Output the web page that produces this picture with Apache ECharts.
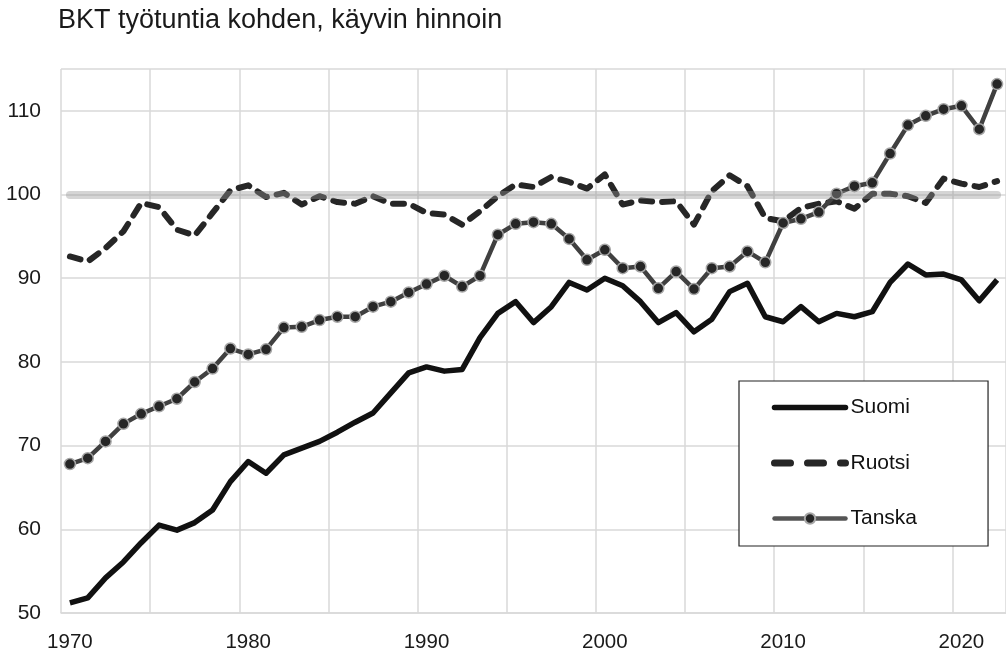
<!DOCTYPE html>
<html>
<head>
<meta charset="utf-8">
<script src="https://cdn.jsdelivr.net/npm/echarts@6/dist/echarts.min.js"></script>
<style>
    html, body { margin: 0; padding: 0; background: #fff; }
    #chart { width: 1006px; height: 653px; }
</style>
</head>
<body>
<div id="chart"></div>
<script>
var years = [];
for (var y = 1970; y <= 2022; y++) {
    years.push(String(y));
}

var suomi = [51.2, 51.8, 54.2, 56.1, 58.4, 60.5, 59.9, 60.8, 62.3, 65.7,
    68.1, 66.7, 68.9, 69.7, 70.5, 71.6, 72.8, 73.9, 76.3, 78.7,
    79.4, 78.9, 79.1, 82.9, 85.8, 87.2, 84.7, 86.6, 89.5, 88.6,
    90.0, 89.1, 87.2, 84.7, 85.9, 83.6, 85.1, 88.4, 89.4, 85.4,
    84.8, 86.6, 84.8, 85.8, 85.4, 86.0, 89.5, 91.7, 90.4, 90.5,
    89.8, 87.3, 89.8];

var ruotsi = [92.6, 92.0, 93.6, 95.6, 99.0, 98.5, 95.8, 95.1, 97.8, 100.5,
    101.1, 99.7, 100.2, 98.8, 99.8, 99.1, 98.9, 99.8, 98.9, 98.9,
    97.8, 97.6, 96.4, 98.0, 99.8, 101.2, 100.9, 102.1, 101.5, 100.7,
    102.4, 98.8, 99.3, 99.1, 99.2, 96.4, 100.4, 102.3, 101.0, 97.2,
    96.8, 98.4, 98.9, 99.2, 98.3, 100.1, 100.1, 99.8, 99.0, 101.9,
    101.3, 100.9, 101.6];

var tanska = [67.8, 68.5, 70.5, 72.6, 73.8, 74.7, 75.6, 77.6, 79.2, 81.6,
    80.9, 81.5, 84.1, 84.2, 85.0, 85.4, 85.4, 86.6, 87.2, 88.3,
    89.3, 90.3, 89.0, 90.3, 95.2, 96.5, 96.7, 96.5, 94.7, 92.2,
    93.4, 91.2, 91.4, 88.8, 90.8, 88.7, 91.2, 91.4, 93.2, 91.9,
    96.6, 97.1, 97.9, 100.1, 101.0, 101.4, 104.9, 108.3, 109.4, 110.2,
    110.6, 107.8, 113.2];

var refLevel = 100;

var fontFamily = '"Liberation Sans", Arial, Helvetica, sans-serif';

var chart = echarts.init(document.getElementById('chart'));

// legend: Suomi and Ruotsi show only the line, no dot
var hiddenDot = { color: 'rgba(0,0,0,0)', borderWidth: 0, opacity: 0 };

var option = {
    animation: false,
    backgroundColor: '#fff',
    textStyle: { fontFamily: fontFamily },
    title: {
        text: 'BKT työtuntia kohden, käyvin hinnoin',
        left: 58,
        top: 7,
        padding: 0,
        textStyle: {
            fontFamily: fontFamily,
            fontSize: 27,
            fontWeight: 'normal',
            color: '#1a1a1a'
        }
    },
    grid: {
        left: 61,
        top: 69,
        right: -3,
        bottom: 40
    },
    legend: {
        data: [
            { name: 'Suomi', itemStyle: hiddenDot, lineStyle: { width: 5.5, color: '#111', cap: 'round' } },
            { name: 'Ruotsi', itemStyle: hiddenDot, lineStyle: { width: 7, color: '#262626', type: [16, 17], cap: 'round' } },
            { name: 'Tanska', lineStyle: { width: 4.5, color: '#555', cap: 'round' } }
        ],
        orient: 'vertical',
        left: 739,
        top: 381,
        padding: [16, 71, 17, 32],
        itemWidth: 71,
        itemHeight: 13,
        itemGap: 34.5,
        itemTextGap: 3,
        backgroundColor: '#fff',
        borderColor: '#222',
        borderWidth: 1.2,
        borderRadius: 0,
        textStyle: {
            fontFamily: fontFamily,
            fontSize: 21,
            color: '#111'
        }
    },
    xAxis: {
        type: 'category',
        data: years,
        boundaryGap: true,
        axisLine: { show: true, lineStyle: { color: '#d9d9d9', width: 1.5 } },
        axisTick: { show: false },
        axisLabel: {
            interval: 9,
            margin: 19,
            fontSize: 20.5,
            color: '#1a1a1a',
            fontFamily: fontFamily
        },
        splitLine: {
            show: true,
            interval: 4,
            lineStyle: { color: '#d9d9d9', width: 1.5 }
        }
    },
    yAxis: {
        type: 'value',
        min: 50,
        max: 115,
        interval: 10,
        axisLine: { show: false },
        axisTick: { show: false },
        axisLabel: {
            margin: 20,
            fontSize: 21,
            color: '#1a1a1a',
            fontFamily: fontFamily,
            showMaxLabel: false
        },
        splitLine: {
            show: true,
            lineStyle: { color: '#d9d9d9', width: 1.5 }
        }
    },
    series: [
        {
            name: 'Suomi',
            type: 'line',
            data: suomi,
            symbol: 'none',
            lineStyle: { color: '#111', width: 5.5, join: 'round' },
            itemStyle: { color: '#111' },
            z: 2
        },
        {
            name: 'Ruotsi',
            type: 'line',
            data: ruotsi,
            symbol: 'none',
            lineStyle: { color: '#262626', width: 6, type: [11, 10], cap: 'round', join: 'round' },
            itemStyle: { color: '#262626' },
            z: 3
        },
        {
            name: 'Tanska',
            type: 'line',
            data: tanska,
            symbol: 'circle',
            symbolSize: 11,
            showSymbol: true,
            lineStyle: { color: '#404040', width: 4.5 },
            itemStyle: { color: '#262626', borderColor: '#a6a6a6', borderWidth: 1.5 },
            z: 4
        },
        {
            // harmaa 100-viiva kaikkien päällä
            name: 'ref',
            type: 'line',
            data: [],
            z: 10,
            markLine: {
                silent: true,
                symbol: ['none', 'none'],
                label: { show: false },
                lineStyle: { color: 'rgba(150,150,150,0.4)', width: 8, type: 'solid', cap: 'round' },
                data: [[
                    { coord: [years[0], refLevel] },
                    { coord: [years[years.length - 1], refLevel] }
                ]]
            }
        }
    ]
};

chart.setOption(option);
</script>
</body>
</html>
